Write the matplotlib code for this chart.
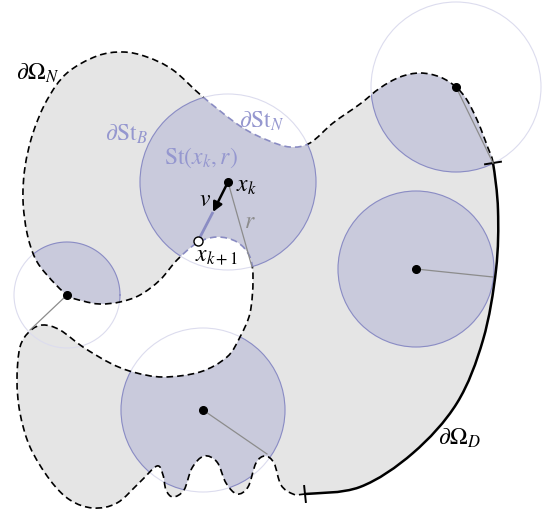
import numpy as np
import matplotlib
matplotlib.use('Agg')
import matplotlib.pyplot as plt
from matplotlib.path import Path
from matplotlib.patches import PathPatch, Circle, Polygon, FancyArrowPatch

plt.rcParams['mathtext.fontset'] = 'stix'
plt.rcParams['font.family'] = ['STIXGeneral', 'DejaVu Serif']

W, H = 547, 514

# Dirichlet part of the boundary (solid), from bottom tick to top-right tick
DIRICHLET_X = [305, 360, 413, 457, 483, 496, 498, 493]
DIRICHLET_Y = [494, 487, 453, 403, 340, 270, 210, 163]

# Neumann part of the boundary (dashed), from top-right tick back to bottom tick
NEUMANN_X = [493, 488, 478, 467, 456, 440, 420, 400, 380, 360, 333, 310, 290, 267,
             240, 203, 173, 147, 123, 97, 67, 47, 33, 25, 23, 27, 35, 47, 67, 83,
             100, 120, 140, 160, 177, 197, 217, 237, 250, 253, 250, 240, 227, 200,
             163, 133, 110, 83, 60, 43, 30, 20, 17, 20, 30, 50, 70, 93, 117, 140,
             157, 163, 166, 173, 184, 192, 204, 217, 226, 237, 248, 256, 265, 274,
             281, 293, 305]
NEUMANN_Y = [163, 148, 122, 100, 87, 77, 73, 77, 88, 104, 123, 143, 147, 140,
             126, 97, 70, 57, 52, 56, 73, 100, 133, 167, 200, 233, 258, 275, 295, 301,
             304, 302, 295, 280, 260, 243, 237, 242, 257, 280, 313, 337, 357, 372,
             377, 372, 363, 347, 330, 325, 331, 347, 380, 413, 447, 480, 500, 508, 503, 482,
             466, 475, 490, 497, 490, 468, 456, 462, 483, 494, 487, 463, 456, 463,
             485, 494, 494]

# Balls: first one is St(x_k, r)
CIRCLE_CX = [228, 67, 456, 416, 203]
CIRCLE_CY = [182, 295, 87, 269, 410]
CIRCLE_R = [88, 53, 85, 78, 82]
RADIUS_END_X = [252, 30, 493, 493, 267]
RADIUS_END_Y = [267, 330, 163, 277, 454]
# only the part of each ball connected to its centre is shaded
CIRCLE_CUT_Y = [None, 315, None, None, None]

XK = (228, 182)
XK1 = (198, 241)
ARROW_TIP = (213, 212)

GRAY_FILL = '#e5e5e5'
BALL_FILL = '#c9cadc'
BALL_EDGE = '#8a8cc3'
BALL_LIGHT = '#dcdcee'
LABEL_BLUE = '#9597cf'

# closed loop of points
pts = np.array(list(zip(DIRICHLET_X, DIRICHLET_Y)) +
               list(zip(NEUMANN_X, NEUMANN_Y))[1:-1], dtype=float)
N = len(pts)
nd = len(DIRICHLET_X)


def seg_path(indices):
    verts = [pts[indices[0]]]
    codes = [Path.MOVETO]
    for i in indices:
        p0 = pts[(i - 1) % N]
        p1 = pts[i]
        p2 = pts[(i + 1) % N]
        p3 = pts[(i + 2) % N]
        c1 = p1 + (p2 - p0) / 6.0
        c2 = p2 - (p3 - p1) / 6.0
        verts += [c1, c2, p2]
        codes += [Path.CURVE4] * 3
    return verts, codes


fig = plt.figure(figsize=(W / 100, H / 100), dpi=100)
ax = fig.add_axes([0, 0, 1, 1])
ax.set_xlim(0, W)
ax.set_ylim(H, 0)
ax.set_aspect('equal')
ax.axis('off')

# domain
v, c = seg_path(range(N))
v.append(pts[0]); c.append(Path.CLOSEPOLY)
domain_path = Path(v, c)
domain = PathPatch(domain_path, facecolor=GRAY_FILL, edgecolor='none', zorder=1)
ax.add_patch(domain)

# balls
ang = np.linspace(0, 2 * np.pi, 400)
for cx, cy, r, cut in zip(CIRCLE_CX, CIRCLE_CY, CIRCLE_R, CIRCLE_CUT_Y):
    ax.add_patch(Circle((cx, cy), r, facecolor='none', edgecolor=BALL_LIGHT,
                        lw=0.8, zorder=2))
    if cut is None:
        inner = Circle((cx, cy), r, facecolor=BALL_FILL, edgecolor=BALL_EDGE,
                       lw=0.8, zorder=3)
        ax.add_patch(inner)
        inner.set_clip_path(domain)
    else:
        px = cx + r * np.cos(ang)
        py = cy + r * np.sin(ang)
        poly = Polygon(np.column_stack([px, np.minimum(py, cut)]), closed=True,
                       facecolor=BALL_FILL, edgecolor='none', zorder=3)
        ax.add_patch(poly)
        poly.set_clip_path(domain)
        keep = py <= cut
        ex = np.where(keep, px, np.nan)
        ey = np.where(keep, py, np.nan)
        edge, = ax.plot(ex, ey, color=BALL_EDGE, lw=0.8, zorder=3)
        edge.set_clip_path(domain)

# boundary lines
dv, dc = seg_path(range(0, nd - 1))
ax.add_patch(PathPatch(Path(dv, dc), facecolor='none', edgecolor='black',
                       lw=1.8, zorder=4, capstyle='butt'))
nv, nc = seg_path(range(nd - 1, N))
neu_path = Path(nv, nc)

# clip: outside / inside the St ball
circ_x = CIRCLE_CX[0] + CIRCLE_R[0] * np.cos(ang)
circ_y = CIRCLE_CY[0] + CIRCLE_R[0] * np.sin(ang)
rect = np.array([[-20, -20], [W + 20, -20], [W + 20, H + 20], [-20, H + 20], [-20, -20]])
hole = np.column_stack([circ_x, circ_y])[::-1]
outside_path = Path(np.vstack([rect, hole]),
                    [Path.MOVETO] + [Path.LINETO] * 4 +
                    [Path.MOVETO] + [Path.LINETO] * (len(hole) - 1))
inside_path = Path(np.column_stack([circ_x, circ_y]))

black_neu = PathPatch(neu_path, facecolor='none', edgecolor='black', lw=1.2,
                      linestyle=(0, (4, 2.4)), zorder=4)
ax.add_patch(black_neu)
black_neu.set_clip_path(outside_path, ax.transData)
blue_neu = PathPatch(neu_path, facecolor='none', edgecolor=BALL_EDGE, lw=1.2,
                     linestyle=(0, (4, 2.4)), zorder=4)
ax.add_patch(blue_neu)
blue_neu.set_clip_path(inside_path, ax.transData)

# ticks at the ends of the Dirichlet boundary
for i in (0, nd - 1):
    t = pts[(i + 1) % N] - pts[(i - 1) % N]
    t = t / np.hypot(*t)
    nrm = np.array([-t[1], t[0]])
    a = pts[i] + 9 * nrm
    b = pts[i] - 9 * nrm
    ax.plot([a[0], b[0]], [a[1], b[1]], color='black', lw=1.4, zorder=5,
            solid_capstyle='butt')

# radius lines
for cx, cy, ex, ey in zip(CIRCLE_CX, CIRCLE_CY, RADIUS_END_X, RADIUS_END_Y):
    ax.plot([cx, ex], [cy, ey], color='#8c8c8c', lw=0.9, zorder=5)

# centers
ax.plot(CIRCLE_CX, CIRCLE_CY, 'o', color='black', ms=5.5, zorder=7, ls='none')

# step direction
ax.plot([ARROW_TIP[0], XK1[0]], [ARROW_TIP[1], XK1[1]], color=BALL_EDGE, lw=2,
        zorder=5, solid_capstyle='butt')
ax.add_patch(FancyArrowPatch(posA=XK, posB=ARROW_TIP, arrowstyle='-|>',
                             mutation_scale=14, lw=1.8, color='black',
                             shrinkA=0, shrinkB=0, zorder=6))
ax.plot([XK1[0]], [XK1[1]], 'o', mfc='white', mec='black', mew=1, ms=6.5, zorder=7)

# labels
fs = 17
ax.text(38, 73, r'$\partial\Omega_N$', fontsize=fs, ha='center', va='center', color='black', zorder=8)
ax.text(126, 134, r'$\partial\mathrm{St}_B$', fontsize=fs, ha='center', va='center', color=LABEL_BLUE, zorder=8)
ax.text(262, 121, r'$\partial\mathrm{St}_N$', fontsize=fs, ha='center', va='center', color=LABEL_BLUE, zorder=8)
ax.text(201, 158, r'$\mathrm{St}(x_k, r)$', fontsize=fs, ha='center', va='center', color=LABEL_BLUE, zorder=8)
ax.text(246, 186, r'$x_k$', fontsize=fs, ha='center', va='center', color='black', zorder=8)
ax.text(205, 200, r'$v$', fontsize=fs, ha='center', va='center', color='black', zorder=8)
ax.text(250, 222, r'$r$', fontsize=fs, ha='center', va='center', color='#8c8c8c', zorder=8)
ax.text(217, 256, r'$x_{k+1}$', fontsize=fs, ha='center', va='center', color='black', zorder=8)
ax.text(459, 438, r'$\partial\Omega_D$', fontsize=fs, ha='center', va='center', color='black', zorder=8)

fig.savefig('out.png', dpi=100)
